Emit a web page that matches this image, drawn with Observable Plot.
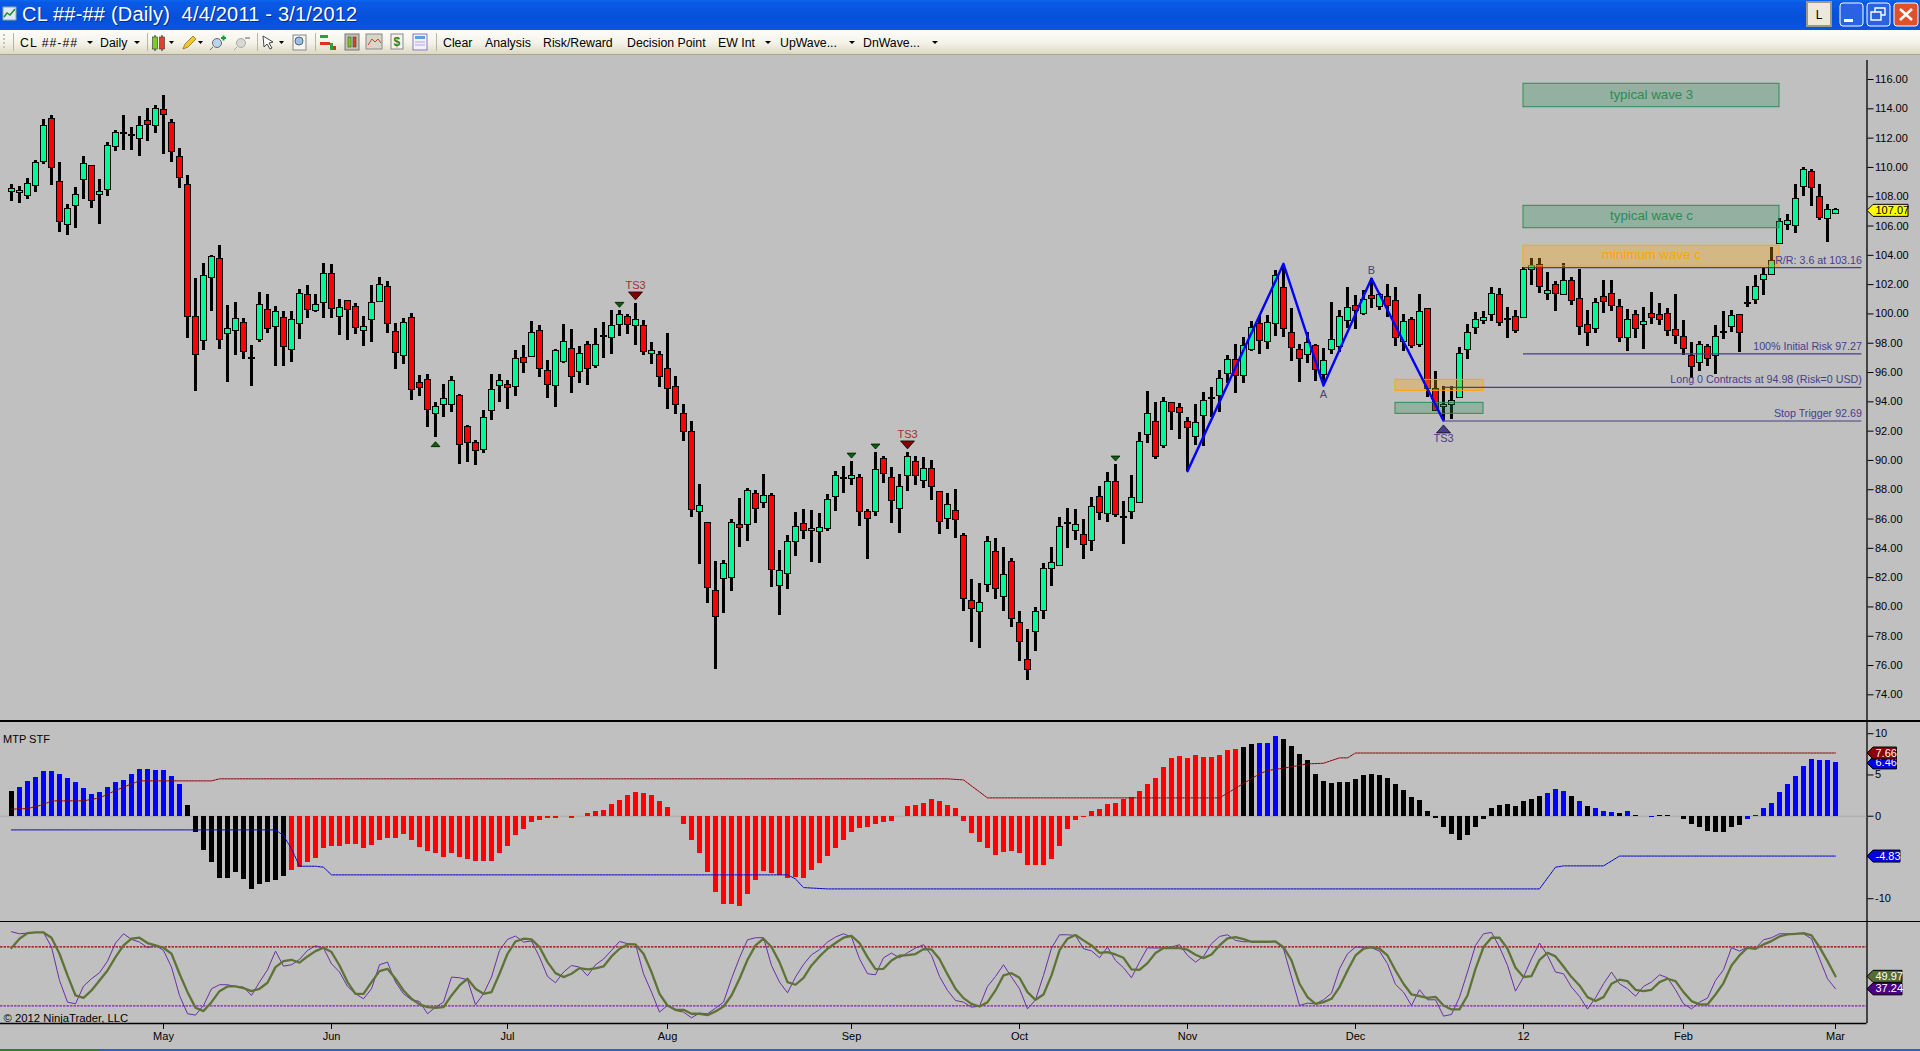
<!DOCTYPE html>
<html><head><meta charset="utf-8">
<script src="https://cdn.jsdelivr.net/npm/d3@7"></script>
<script src="https://cdn.jsdelivr.net/npm/@observablehq/plot@0.6"></script>
<style>
html,body{margin:0;padding:0;background:#c0c0c0;}
#page{position:relative;width:1920px;height:1051px;overflow:hidden;background:#c0c0c0;font-family:"Liberation Sans",Arial,sans-serif;}
#titlebar{position:absolute;left:0;top:0;width:1920px;height:30px;background:linear-gradient(#0a66ee 0,#0a5ae6 8%,#0650d8 60%,#0a56de 100%);}
#title{position:absolute;left:22px;top:3px;color:#fff;font-size:20px;letter-spacing:.2px;white-space:pre;text-shadow:1px 1px 0 #02289a;}
#toolbar{position:absolute;left:0;top:30px;width:1920px;height:25px;background:linear-gradient(#fdfdfa,#f4f2e8 55%,#dcd8c4);border-bottom:1px solid #a8a68e;box-sizing:border-box;}
.tb{position:absolute;top:35.5px;font-size:12.3px;color:#000;white-space:pre;line-height:14px;}
.arr{position:absolute;top:41px;width:0;height:0;border-left:3px solid transparent;border-right:3px solid transparent;border-top:3px solid #000;}
.sep{position:absolute;left:0;width:1920px;height:1.5px;background:#000;}
.chart{position:absolute;left:0;}
#mtp{position:absolute;left:3px;top:733px;font-size:11px;color:#000;}
#bottom1{position:absolute;left:0;top:1049px;width:100px;height:2px;background:#2e8030;}
#bottom2{position:absolute;left:100px;top:1049px;width:1820px;height:2px;background:#2a62c8;}
svg.overlay{position:absolute;left:0;top:0;}
</style></head><body>
<div id="page">
<div id="titlebar"><div id="title">CL ##-## (Daily)  4/4/2011 - 3/1/2012</div></div>
<div id="toolbar"></div>
<div class="tb" style="left:20px;letter-spacing:1px">CL ##-##</div><div class="arr" style="left:87px"></div>
<div class="tb" style="left:100px">Daily</div><div class="arr" style="left:134px"></div>
<div class="tb" style="left:443px">Clear</div>
<div class="tb" style="left:485px">Analysis</div>
<div class="tb" style="left:543px">Risk/Reward</div>
<div class="tb" style="left:627px">Decision Point</div>
<div class="tb" style="left:718px">EW Int</div><div class="arr" style="left:765px"></div>
<div class="tb" style="left:780px">UpWave...</div><div class="arr" style="left:849px"></div>
<div class="tb" style="left:863px">DnWave...</div><div class="arr" style="left:932px"></div>
<svg class="overlay" width="1920" height="60">
  <g fill="#c8c6b0"><rect x="3" y="34" width="2" height="2"/><rect x="3" y="38" width="2" height="2"/><rect x="3" y="42" width="2" height="2"/><rect x="3" y="46" width="2" height="2"/></g>
  <g stroke="#b8b6a2" stroke-width="1"><path d="M13.5 33V51M147.5 33V51M257.5 33V51M315.5 33V51M436.5 33V51"/></g>
  <rect x="3" y="7" width="13" height="13" fill="#dfe8f4" stroke="#8aa"/><path d="M4 17l3-4 3 2 5-6" stroke="#1a8a2a" fill="none" stroke-width="1.4"/>
  <g><path d="M155 35V51M162 35V51" stroke="#222"/><rect x="152.500" y="37" width="5" height="12" fill="#78d020" stroke="#333" stroke-width=".6"/><rect x="159.500" y="37" width="5" height="12" fill="#e04030" stroke="#333" stroke-width=".6"/></g>
  <path d="M169 41h5l-2.5 3z M198 41h5l-2.5 3z M279 41h5l-2.5 3z"/>
  <path d="M183 49l2-5 8-8 3 3-8 8z" fill="#f0c830" stroke="#806010" stroke-width=".7"/>
  <g fill="#bcd4ec" stroke="#667" stroke-width="1"><circle cx="217" cy="43" r="4.5"/><path d="M213 47l-3 3"/></g><path d="M221 38h5M223.500 35.500v5" stroke="#10a030" stroke-width="2"/>
  <g fill="#d8d8d4" stroke="#aaa" stroke-width="1"><circle cx="241" cy="43" r="4.500"/><path d="M237 47l-3 3"/></g><path d="M245 38h5" stroke="#aaa" stroke-width="2"/>
  <path d="M263 36l10 6-4 1 3 5-2 1-3-5-3 3z" fill="#fff" stroke="#333" stroke-width=".9"/>
  <rect x="293" y="35" width="13" height="15" fill="#f4f4ee" stroke="#888"/><circle cx="299" cy="41" r="4" fill="#9cc0e4" stroke="#567"/>
  <g><rect x="320" y="35" width="8" height="3" fill="#30a030"/><rect x="320" y="42" width="10" height="3" fill="#e03020"/><rect x="330" y="43" width="3" height="7" fill="#30a030"/><rect x="333" y="46" width="3" height="4" fill="#e03020"/></g>
  <rect x="345" y="34" width="14" height="16" fill="#c4c2b4" stroke="#777"/><rect x="348" y="37" width="3" height="10" fill="#78d020" stroke="#333" stroke-width=".5"/><rect x="353" y="37" width="3" height="10" fill="#e04030" stroke="#333" stroke-width=".5"/>
  <rect x="366" y="34" width="16" height="15" fill="#d8d6c8" stroke="#888"/><path d="M368 45l4-6 3 3 3-3 3 4" stroke="#d04030" fill="none"/>
  <rect x="391" y="34" width="12" height="15" fill="#f4f4ee" stroke="#888"/><text x="393.500" y="46" font-size="12" font-weight="bold" fill="#208030" font-family="Liberation Sans">$</text>
  <rect x="413" y="34" width="14" height="16" fill="#f0f0f8" stroke="#8878c0"/><rect x="415" y="36" width="10" height="3" fill="#60a0e0"/><path d="M415 42h10M415 45h10" stroke="#c0a0e0"/>
  <rect x="1807" y="2" width="24" height="24" fill="#ece9d8" stroke="#9a9888" stroke-width="2"/><text x="1819" y="19" font-size="12" text-anchor="middle" font-family="Liberation Sans">L</text>
  <rect x="1840" y="3" width="23" height="23" rx="3" fill="#2a62e4" stroke="#fff"/><rect x="1844" y="19" width="9" height="3" fill="#fff"/>
  <rect x="1867" y="3" width="23" height="23" rx="3" fill="#2a62e4" stroke="#fff"/><path d="M1875 12v-4h10v7h-4M1871 12h10v8h-10z" fill="none" stroke="#fff" stroke-width="1.4"/>
  <rect x="1894" y="3" width="24" height="23" rx="3" fill="#e0502a" stroke="#fff"/><path d="M1900 9l12 11M1912 9l-12 11" stroke="#fff" stroke-width="2.600"/>
  <path d="M1837 66v19l14-9.500z" fill="none" stroke="#000" stroke-width="1.300"/><rect x="1853.500" y="65.500" width="2.600" height="20" fill="none" stroke="#000"/>
</svg>
<div id="p1" class="chart" style="top:55px"></div>
<div id="p2" class="chart" style="top:721px"></div>
<div id="p3" class="chart" style="top:921px"></div>
<div class="sep" style="top:720px"></div>
<div class="sep" style="top:920.5px"></div>
<div id="mtp">MTP STF</div>
<div id="bottom1"></div><div id="bottom2"></div>
</div>
<script>
// ---------- candles ----------
const highs=[108.83,108.69,109.24,110.47,113.24,113.52,110.31,107.44,108.63,110.74,
110.13,109.17,111.67,112.49,113.52,112.72,113.45,114.02,114.20,114.90,
113.24,111.26,109.42,102.39,103.42,103.96,104.64,100.57,100.75,99.66,
97.84,101.44,101.30,100.48,100.14,100.14,101.64,101.91,101.30,103.42,
103.35,100.96,100.89,100.68,99.82,101.91,102.46,102.19,99.32,99.66,
100.00,95.80,95.86,93.95,95.18,95.73,94.50,92.36,91.36,93.41,
95.86,95.86,95.45,97.50,97.84,99.46,99.21,96.82,97.55,99.28,
98.94,97.77,98.09,99.00,99.41,100.23,100.21,99.96,100.69,99.53,
98.02,97.41,98.66,95.70,93.79,92.63,88.33,85.74,83.08,83.17,
86.00,87.40,88.06,87.92,89.01,87.72,83.85,84.85,86.42,86.63,
86.56,86.35,87.65,89.22,89.58,89.92,89.01,86.63,90.54,90.25,
89.49,89.01,90.54,90.25,90.20,89.97,87.88,87.72,88.01,84.99,
81.85,81.57,84.78,84.65,84.03,83.28,79.69,78.44,79.94,82.94,
84.03,86.08,86.70,86.63,86.00,87.44,88.20,89.15,89.70,87.17,
88.95,91.88,94.70,93.93,94.27,93.93,93.86,92.91,93.79,94.61,
94.95,96.11,97.14,97.89,98.37,99.46,99.80,99.87,102.96,103.30,
100.35,97.89,98.71,97.89,97.62,100.76,100.21,101.78,101.23,101.57,
102.39,101.37,101.98,101.78,99.94,99.73,101.30,100.35,96.05,95.05,
95.05,97.68,99.25,100.07,100.14,101.78,101.71,100.41,100.21,103.19,
103.76,103.76,102.80,102.19,103.42,102.46,103.01,100.23,101.03,102.28,
102.28,100.96,100.28,100.21,100.46,101.44,100.69,100.39,101.30,99.55,
98.03,98.12,97.89,99.19,100.14,100.21,99.94,101.85,102.60,103.08,
104.53,106.49,106.76,108.81,109.97,109.83,108.81,107.45,107.17];
const bodyTops=[108.53,108.40,108.88,110.31,112.83,113.31,108.99,107.17,108.12,110.24,
110.10,108.33,111.47,112.36,112.33,112.22,112.83,113.18,114.00,113.93,
113.04,110.72,108.81,99.80,102.60,103.89,103.76,98.98,99.66,99.39,
96.98,100.62,100.27,100.14,99.73,99.59,101.37,101.30,100.62,102.73,
102.73,100.41,100.89,100.48,99.12,100.75,101.98,101.85,98.77,99.39,
99.73,95.30,95.50,93.63,94.20,95.43,94.41,92.29,91.20,92.91,
94.82,95.43,95.16,96.93,97.00,98.71,98.84,96.11,97.48,98.09,
97.62,97.27,97.89,97.89,98.48,99.19,99.94,99.80,99.60,99.19,
97.48,97.21,96.25,95.02,93.18,91.95,86.90,85.74,81.10,82.94,
85.74,85.60,87.92,87.72,87.58,87.58,82.46,84.44,85.47,85.67,
85.33,85.40,87.31,88.95,88.81,88.95,88.81,86.49,89.36,90.11,
88.81,88.20,90.25,89.90,89.42,89.42,87.85,86.97,86.56,84.85,
80.39,80.26,84.44,83.76,82.19,83.08,78.91,76.39,79.66,82.60,
83.01,85.47,85.76,85.60,84.92,86.83,87.51,88.54,88.54,86.17,
87.44,91.27,93.18,92.63,94.00,93.93,93.59,92.63,92.56,94.07,
94.27,95.57,96.87,96.87,97.80,99.05,99.32,99.39,102.60,101.78,
98.71,97.55,98.03,97.82,96.77,98.23,99.80,100.41,100.55,100.96,
101.23,101.30,101.17,100.89,99.46,99.60,100.14,100.35,94.86,93.79,
94.04,97.27,98.71,99.60,99.73,101.37,101.30,99.66,99.80,103.01,
103.28,103.35,101.57,101.98,102.26,102.26,101.03,99.25,100.76,101.17,
101.37,100.48,99.60,99.94,99.46,100.00,99.94,100.00,98.91,98.43,
97.14,97.89,97.75,98.43,98.78,99.87,99.94,100.76,101.85,102.67,
103.62,106.28,106.35,107.85,109.83,109.70,107.99,107.10,107.10];
const bodyBottoms=[108.33,108.24,108.06,108.74,110.35,109.97,106.28,106.05,107.37,109.15,
107.71,108.12,108.47,111.40,112.33,112.22,111.95,112.90,112.83,113.59,
111.04,109.29,99.80,97.20,98.16,102.46,98.23,98.64,98.84,97.41,
96.98,98.23,98.98,99.12,97.75,97.54,99.32,100.27,100.18,100.75,
100.34,99.80,100.27,99.05,98.84,99.59,100.82,99.32,97.34,97.13,
94.81,94.93,93.45,93.16,93.79,93.77,91.06,91.20,90.65,90.70,
93.38,95.07,94.93,95.00,96.66,97.05,96.25,95.16,95.07,96.71,
95.70,96.05,96.25,96.46,98.48,98.37,99.25,99.25,99.19,97.39,
97.27,95.70,94.89,93.79,91.95,86.63,86.49,81.30,79.32,81.92,
81.98,85.40,85.60,86.70,87.10,82.53,81.44,82.26,84.44,85.19,
85.19,85.12,85.33,87.51,88.81,88.74,86.49,86.01,86.49,89.08,
87.24,86.70,88.95,88.95,88.60,88.20,85.81,86.01,85.94,80.55,
79.87,79.66,81.50,81.23,80.69,79.19,77.62,75.70,78.30,79.73,
82.60,82.80,85.76,85.19,84.24,84.51,86.42,86.35,86.28,86.08,
86.49,87.10,91.75,90.25,91.00,93.32,93.25,92.22,91.61,93.04,
94.27,94.41,95.91,95.77,95.77,97.52,98.16,98.09,99.32,98.98,
97.68,96.93,97.21,96.18,95.84,97.55,97.75,99.53,100.21,100.00,
101.03,100.48,100.55,98.37,98.09,97.82,97.89,94.91,93.38,93.66,
93.79,94.27,97.55,99.05,99.53,99.94,99.39,99.66,98.84,99.73,
103.01,101.85,101.37,101.37,101.30,100.89,99.12,98.71,98.98,100.82,
100.53,98.37,98.37,98.98,99.25,99.73,99.60,98.84,98.50,97.62,
96.39,96.66,96.93,97.14,98.78,99.12,98.71,100.76,100.96,102.33,
102.67,104.76,106.08,106.01,108.67,108.61,106.56,106.49,106.83];
const lows=[107.67,107.53,107.81,108.28,110.20,108.76,105.58,105.35,105.83,107.81,
107.21,106.12,108.03,111.08,111.15,111.15,110.74,111.77,112.31,110.88,
110.33,108.56,98.32,94.72,97.50,100.16,97.57,95.34,97.18,96.88,
95.06,98.05,98.68,96.43,96.43,96.70,98.25,99.71,100.12,99.71,
99.71,98.55,98.18,98.59,97.77,98.05,100.78,98.68,96.23,96.54,
94.09,94.36,92.25,91.56,92.93,93.27,89.72,89.86,89.65,90.47,
92.72,93.95,93.47,94.36,95.93,97.00,95.66,94.22,93.61,96.61,
94.57,95.25,95.11,96.27,96.96,97.23,98.46,98.59,97.84,97.16,
96.54,94.98,93.47,93.13,91.29,86.10,82.89,80.26,75.75,79.57,
81.07,84.08,84.49,85.70,86.70,81.35,79.43,81.21,83.46,84.62,
83.05,82.99,85.17,86.51,87.74,88.29,85.49,83.24,86.17,88.42,
85.70,85.01,87.88,88.29,88.08,87.26,84.94,85.28,84.67,79.71,
77.57,77.18,80.98,80.53,79.71,78.62,76.30,75.00,76.98,79.16,
81.42,82.80,83.99,84.53,83.26,83.78,85.90,85.76,86.10,84.26,
85.97,87.10,91.13,90.06,90.79,92.04,91.43,89.27,91.02,90.95,
92.95,93.25,95.23,94.57,95.25,97.46,97.23,97.55,98.46,98.41,
96.75,95.34,96.64,95.41,95.11,97.21,97.34,98.98,98.96,99.87,
100.35,100.23,99.78,97.80,97.43,97.62,97.73,94.32,93.38,92.72,
92.79,94.27,96.91,98.62,99.28,99.46,99.16,98.34,98.69,99.73,
101.94,101.37,100.92,100.19,101.30,100.57,98.55,97.77,98.69,100.05,
100.19,98.07,97.46,98.34,97.59,99.25,99.23,98.48,97.93,97.18,
95.61,96.09,96.41,95.89,98.23,98.73,97.37,100.41,100.64,101.26,
102.65,104.71,105.69,105.49,108.01,107.33,106.38,104.87,106.83];
// g = close above open, r = close below open, d = doji
const candleDirs="gggggrrggg"+"rgggddgrgr"+"rrrrggrggr"+"dgrgrggrgg"+"rgrrgggrrg"+"rrrgggrrrg"+"ggrgrgrrgg"+"rgrgdggrgr"+"grrrrrgrrg"+"grgrgrgggr"+"ggggdgrrgr"+"rggrgrrgrr"+"rggrgrrrgg"+"ggdgrgrgrr"+"gggrgrrrgg"+"dggrggrggr"+"rrgrggggrg"+"rgrrgrgrrg"+"ggggggrdrg"+"grgrgrrrgr"+"rrgrgrrrrr"+"rgrgdgrdgg"+"gggggrrgg";

// ---------- MTP STF histogram ----------
const histValues=[2.99,3.47,4.20,4.69,5.41,5.41,5.05,4.57,4.08,3.35,
2.63,2.87,3.47,4.08,4.32,5.05,5.66,5.66,5.54,5.54,
4.81,3.84,1.29,-1.98,-4.16,-5.62,-7.56,-7.56,-6.83,-7.68,
-8.89,-8.28,-8.04,-7.80,-7.31,-6.59,-6.22,-5.62,-5.13,-3.92,
-3.68,-3.68,-3.43,-3.43,-3.92,-3.56,-2.95,-2.71,-2.71,-2.22,
-2.95,-3.80,-4.28,-4.53,-5.01,-4.53,-5.01,-5.25,-5.49,-5.49,
-5.49,-4.53,-3.68,-2.34,-1.62,-0.77,-0.53,-0.28,-0.28,0.02,
-0.28,-0.05,0.28,0.57,0.69,1.41,1.90,2.51,2.87,2.75,
2.51,1.78,1.05,0,-1.01,-2.95,-4.53,-6.83,-9.25,-10.71,
-10.71,-10.95,-9.49,-7.80,-6.71,-6.95,-7.19,-7.56,-7.43,-7.56,
-6.59,-5.74,-4.89,-3.92,-2.95,-1.98,-1.49,-1.37,-1.01,-0.77,
-0.65,-0.04,1.17,1.29,1.54,2.02,1.78,1.29,0.93,-0.65,
-2.10,-3.19,-3.92,-4.77,-4.40,-4.28,-4.53,-5.98,-5.98,-5.98,
-5.25,-3.68,-1.62,-0.53,-0.16,0.57,0.81,1.41,1.54,2.02,
2.26,2.99,3.84,4.57,5.90,6.99,7.23,6.99,7.35,7.11,
7.11,7.35,7.96,8.08,8.32,8.69,8.81,8.81,9.66,9.29,
8.44,7.47,6.75,5.05,4.20,3.96,4.08,4.08,4.44,4.93,
5.05,4.93,4.57,3.84,3.11,2.26,1.90,0.57,-0.24,-1.37,
-2.22,-2.95,-2.34,-1.37,-0.40,0.93,1.29,1.41,1.17,1.78,
2.02,2.38,2.75,3.23,2.99,2.38,1.78,1.17,0.93,0.57,
0.44,0.28,0.57,0.12,-0.06,-0.16,0.08,0.04,-0.04,-0.40,
-1.01,-1.37,-1.86,-1.98,-1.98,-1.37,-1.13,-0.40,0.12,0.93,
1.54,2.87,3.84,4.81,6.02,6.87,6.75,6.75,6.46];
const histColorRuns=[["#000",1],["#0000ff",21],["#000",13],["#ff0000",119],["#000",2],["#0000ff",3],["#000",33],["#0000ff",3],["#000",1],["#0000ff",1],["#000",1],["#0000ff",3],["#000",1],["#0000ff",1],["#000",1],["#0000ff",2],["#000",11],["#0000ff",12]];
const upperBandBars=[0,2,4,5,9,11,13,15,16,25,26,117,119,122,151,156,157,159,162,164,166,167,168,228];
const upperBandVals=[0.85,0.93,1.41,1.86,1.86,2.22,3.11,3.92,4.28,4.28,4.53,4.53,4.40,2.22,2.22,5.13,5.54,5.82,6.34,6.42,7.07,7.07,7.66,7.66];
const lowerBandBars=[0,33,34,35,36,38,39,40,97,98,99,102,191,193,194,199,201,228];
const lowerBandVals=[-1.66,-1.66,-2.34,-3.96,-6.06,-6.06,-6.18,-7.11,-7.11,-7.6,-8.65,-8.81,-8.81,-6.18,-6.02,-6.02,-4.83,-4.83];

// ---------- stochastic ----------
const stochK=[95.3,93.2,93.9,94.6,94.6,79.7,45.8,23.7,22.0,40.0,
47.5,53.6,65.4,83.8,93.2,87.5,84.8,79.0,81.4,76.3,
59.3,30.5,11.9,10.5,20.3,37.3,41.4,41.4,39.7,39.0,
30.5,44.1,56.6,75.6,60.3,61.7,67.1,76.3,81.0,78.7,
62.7,54.3,39.7,32.2,27.1,37.3,61.7,64.4,44.1,32.2,
26.1,24.4,11.9,18.6,23.7,49.2,48.5,46.5,21.0,32.2,
49.2,76.3,87.5,90.9,84.8,85.8,69.5,49.8,43.4,54.3,
61.0,59.3,50.5,61.7,67.5,76.3,85.4,83.1,82.4,52.6,
33.9,13.6,20.3,15.2,13.6,7.8,12.6,11.9,17.6,23.7,
47.5,68.8,87.1,89.2,89.2,61.0,44.1,33.2,49.2,62.0,
71.9,77.0,84.8,89.9,93.2,89.9,67.8,52.6,51.5,68.8,
73.6,68.8,73.9,78.7,82.1,71.2,49.8,35.6,25.4,23.7,
18.6,19.6,39.7,49.8,61.7,49.2,37.3,16.9,26.1,50.9,
78.7,92.2,92.2,91.5,78.0,75.9,68.8,79.7,66.1,58.7,
48.5,64.4,79.0,78.7,79.0,79.7,82.1,71.2,64.4,70.2,
83.1,90.5,92.2,86.5,85.1,85.1,85.1,85.1,85.1,78.0,
49.2,20.3,22.7,22.0,26.1,32.9,57.6,72.9,79.7,79.7,
79.0,75.6,62.7,41.7,33.9,20.3,36.3,26.1,26.1,9.5,
11.2,28.8,54.3,81.4,93.2,94.6,79.7,61.0,34.9,49.2,
67.8,83.8,71.2,54.3,52.6,39.0,29.5,16.6,28.1,42.4,
54.3,42.4,37.3,29.8,39.7,44.1,51.5,48.5,36.3,22.0,
16.9,23.7,27.8,45.8,56.6,79.0,75.6,79.7,78.3,87.1,
89.2,93.2,93.2,93.2,93.2,88.2,67.8,47.5,37.24];
const stochD=[78.7,88.2,93.9,94.6,94.6,89.2,72.9,50.9,30.5,28.1,
35.6,45.8,55.9,69.5,81.4,88.2,89.2,83.8,81.4,79.0,
72.9,52.6,33.9,18.0,14.6,23.7,34.9,39.7,39.7,38.0,
34.9,37.3,43.4,59.3,65.4,66.8,63.8,70.2,75.6,79.0,
74.6,61.0,44.1,32.2,32.2,44.1,55.3,57.6,47.5,35.6,
27.1,21.4,18.6,18.0,18.6,30.5,40.7,47.5,37.3,32.2,
33.9,52.6,72.9,85.4,88.2,87.5,79.7,64.4,53.2,49.2,
52.6,58.3,57.0,58.0,60.0,70.2,78.0,82.4,82.4,72.9,
54.3,32.2,20.3,15.9,15.9,11.9,11.9,10.5,14.3,19.3,
30.5,47.5,66.8,81.4,88.2,79.7,64.4,44.1,41.4,48.5,
61.0,70.2,78.0,83.8,89.2,91.2,83.8,69.5,57.3,57.6,
66.1,70.9,71.5,72.6,77.6,77.3,67.5,51.9,37.3,27.8,
22.0,19.3,23.7,35.6,50.9,53.2,48.5,33.9,26.1,31.5,
50.9,76.3,88.2,91.9,86.5,81.4,73.9,74.6,72.2,68.8,
57.0,56.6,63.4,73.6,78.7,79.0,78.7,77.0,71.9,68.5,
72.2,81.4,88.5,89.9,87.8,85.1,85.1,85.1,85.4,79.7,
66.1,42.4,28.8,22.0,23.7,27.1,39.0,55.9,71.2,78.0,
79.7,78.0,71.2,55.9,42.4,31.5,29.8,28.1,29.1,20.3,
16.3,16.3,30.5,57.6,79.7,89.2,89.2,78.0,58.7,49.2,
50.2,66.8,73.9,70.2,60.0,49.2,40.7,28.8,24.8,28.8,
42.4,46.5,45.1,36.3,34.9,36.3,44.1,47.5,45.1,33.9,
24.8,21.4,21.4,31.5,43.1,61.0,71.2,79.0,78.0,82.4,
85.8,90.5,92.6,93.2,93.9,91.5,79.7,65.4,49.97];

// ---------- axes and annotations ----------
const priceTicks=[74,76,78,80,82,84,86,88,90,92,94,96,98,100,102,104,106,108,110,112,114,116];
const mtpTicks=[-10,0,5,10];
const monthBars=[19,40,62,82,105,126,147,168,189,209,228];
const monthLabels=["May","Jun","Jul","Aug","Sep","Oct","Nov","Dec","12","Feb","Mar"];
const zoneNames=["typical wave 3","typical wave c","minimum wave c","","",];
const zoneFrom=[189,189,189,173,173];
const zoneTo=[221,221,221,184,184];
const zoneHigh=[115.71,107.38,104.65,95.50,93.93];
const zoneLow=[114.11,105.85,103.24,94.75,93.18];
const zoneColors=["#2e8b57","#2e8b57","#ffa500","#ffa500","#2e8b57"];
const zigBars=[147,159,164,170,179];
const zigPrices=[89.27,103.42,95.11,102.42,92.72];
const riskText=["R/R: 3.6 at 103.16","100% Initial Risk 97.27","Long 0 Contracts at 94.98 (Risk=0 USD)","Stop Trigger 92.69"];
const riskPrice=[103.16,97.27,94.98,92.69];
const riskFrom=[189,189,179,179];
const smallUpBars=[53], smallUpPrices=[91.11];
const smallDownBars=[76,105,108,138], smallDownPrices=[100.62,90.33,90.95,90.13];
const ts3DownBars=[78,112], ts3DownPrices=[101.23,91.06];

// ---------- library tables ----------
const axisBar=(1866.5-11)/8, firstEdge=-11/8, lineEnd=231.3;
const xDomain=[firstEdge,axisBar];
const font='"Liberation Sans",Arial,sans-serif';
const bars=highs.map((h,i)=>({i,h,t:bodyTops[i],b:bodyBottoms[i],l:lows[i],d:candleDirs[i]}));
const histColors=histColorRuns.flatMap(([c,n])=>Array(n).fill(c));
const hist=histValues.map((v,i)=>({i,v,c:histColors[i]}));
const zones=zoneNames.map((n,k)=>({n,from:zoneFrom[k],to:zoneTo[k],hi:zoneHigh[k],lo:zoneLow[k],c:zoneColors[k]}));
const risk=riskText.map((t,k)=>({t,y:riskPrice[k],from:riskFrom[k]}));
const pts=(xs,ys)=>xs.map((x,k)=>({x,y:ys[k]}));
const tri=(w,h,up)=>({draw(c){const s=up?-1:1;c.moveTo(-w/2,-s*h/2);c.lineTo(w/2,-s*h/2);c.lineTo(0,s*h/2);c.closePath();}});
const flag=(w)=>({draw(c){c.moveTo(0,0);c.lineTo(6,-6);c.lineTo(w,-6);c.lineTo(w,6);c.lineTo(6,6);c.closePath();}});
const tagMarks=(tags)=>tags.flatMap(t=>[
  Plot.dot([t],{x:()=>axisBar,y:"v",r:4,symbol:flag(t.w),fill:t.bg,stroke:"#000",strokeWidth:1}),
  Plot.text([t],{x:()=>axisBar,y:"v",text:d=>d.s,textAnchor:"start",dx:8.5,fill:t.fg,fontSize:11})
]);
const base={width:1920,marginLeft:0,marginRight:53.5,marginTop:0,style:{background:"transparent",fontFamily:font,fontSize:"11px",color:"#000",overflow:"visible"}};

// ---------- price panel ----------
document.getElementById("p1").append(Plot.plot({...base,height:666,marginBottom:0,
  x:{domain:xDomain,axis:null},y:{domain:[72.18,117.64],axis:null},
  marks:[
    Plot.ruleX([axisBar],{y1:72.18,y2:117.3,stroke:"#000",strokeWidth:1.3}),
    Plot.axisY({anchor:"right",ticks:priceTicks,tickSize:6,tickPadding:2,tickFormat:d=>d.toFixed(2),label:null,fontSize:11}),
    Plot.ruleX(bars,{x:"i",y1:"l",y2:"h",stroke:"#000",strokeWidth:3,shapeRendering:"crispEdges"}),
    Plot.rect(bars.filter(d=>d.d!=="d"),{x1:d=>d.i-0.3125,x2:d=>d.i+0.4375,y1:"b",y2:"t",fill:d=>d.d==="g"?"#00fa9a":"#ff0000",stroke:"#000",strokeWidth:1,shapeRendering:"crispEdges"}),
    Plot.ruleY(bars.filter(d=>d.d==="d"),{y:"t",x1:d=>d.i-0.375,x2:d=>d.i+0.5,stroke:"#000",strokeWidth:2,shapeRendering:"crispEdges"}),
    Plot.rect(zones,{x1:"from",x2:"to",y1:"lo",y2:"hi",fill:"c",fillOpacity:0.3,stroke:"c",strokeWidth:1}),
    Plot.text(zones.filter(z=>z.n),{x:d=>(d.from+d.to)/2,y:d=>(d.hi+d.lo)/2,text:"n",dy:-1,fill:"c",fontSize:13.3}),
    Plot.line(pts(zigBars,zigPrices),{x:"x",y:"y",stroke:"#0000ff",strokeWidth:2.4}),
    Plot.ruleY(risk,{y:"y",x1:"from",x2:()=>lineEnd,stroke:"#483d8b",strokeWidth:1.2}),
    Plot.text(risk,{x:()=>lineEnd,y:"y",text:"t",textAnchor:"end",dy:-7.5,fill:"#483d8b",fontSize:10.7}),
    Plot.dot(pts(smallUpBars,smallUpPrices),{x:"x",y:"y",r:3,symbol:tri(9,5,true),fill:"#006400",stroke:"#000",strokeWidth:.7}),
    Plot.dot(pts(smallDownBars,smallDownPrices),{x:"x",y:"y",r:3,symbol:tri(9,5,false),fill:"#006400",stroke:"#000",strokeWidth:.7}),
    Plot.dot(pts(ts3DownBars,ts3DownPrices),{x:"x",y:"y",r:5,symbol:tri(14,8,false),fill:"#800000",stroke:"#000",strokeWidth:.7}),
    Plot.text(pts(ts3DownBars,ts3DownPrices),{x:"x",y:"y",text:()=>"TS3",dy:-10,fill:"#a03030",fontSize:11}),
    Plot.dot(pts([179],[92.15]),{x:"x",y:"y",r:5,symbol:tri(14,8,true),fill:"#483d8b",stroke:"#000",strokeWidth:.7}),
    Plot.text(pts([179],[91.47]),{x:"x",y:"y",text:()=>"TS3",fill:"#483d8b",fontSize:11}),
    Plot.text(pts([164],[94.48]),{x:"x",y:"y",text:()=>"A",fill:"#483d8b",fontSize:11}),
    Plot.text(pts([170],[102.96]),{x:"x",y:"y",text:()=>"B",fill:"#483d8b",fontSize:11}),
    ...tagMarks([{v:107.07,s:"107.07",w:41,bg:"#ffff00",fg:"#000"}])
  ]}));

// ---------- MTP STF panel ----------
document.getElementById("p2").append(Plot.plot({...base,height:200,marginBottom:0,
  x:{domain:xDomain,axis:null},y:{domain:[-12.76,11.48],axis:null},
  marks:[
    Plot.ruleX([axisBar],{stroke:"#000",strokeWidth:1.3}),
    Plot.axisY({anchor:"right",ticks:mtpTicks,tickSize:6,tickPadding:2,label:null,tickFormat:d=>String(d).replace("−","-"),fontSize:11}),
    Plot.ruleY([0],{x1:firstEdge,x2:axisBar,stroke:"#a8a8a8",strokeWidth:1}),
    Plot.rect(hist,{x1:d=>d.i-0.3125,x2:d=>d.i+0.3125,y1:()=>0,y2:"v",fill:"c",shapeRendering:"crispEdges"}),
    Plot.line(pts(upperBandBars,upperBandVals),{x:"x",y:"y",stroke:"#8b0000",strokeWidth:1,strokeDasharray:"2,1"}),
    Plot.line(pts(lowerBandBars,lowerBandVals),{x:"x",y:"y",stroke:"#0000cd",strokeWidth:1,strokeDasharray:"2,1"}),
    ...tagMarks([
      {v:6.46,s:"6.46",w:29.5,bg:"#0000e0",fg:"#fff"},
      {v:7.66,s:"7.66",w:29.5,bg:"#8b0000",fg:"#fff"},
      {v:-4.83,s:"-4.83",w:33,bg:"#0000e0",fg:"#fff"}])
  ]}));

// ---------- stochastic panel ----------
document.getElementById("p3").append(Plot.plot({...base,height:130,marginBottom:28,
  x:{domain:xDomain,axis:null},y:{domain:[2,105.7],axis:null},
  marks:[
    Plot.ruleX([axisBar],{stroke:"#000",strokeWidth:1.3}),
    Plot.ruleY([2],{x1:firstEdge,x2:axisBar,stroke:"#000",strokeWidth:1.3}),
    Plot.axisX({anchor:"bottom",ticks:monthBars,tickSize:6,tickPadding:3,label:null,tickFormat:d=>monthLabels[monthBars.indexOf(d)],fontSize:11}),
    Plot.ruleY([80],{x1:firstEdge,x2:axisBar,stroke:"#a00000",strokeWidth:1.2,strokeDasharray:"2.500,1"}),
    Plot.ruleY([20],{x1:firstEdge,x2:axisBar,stroke:"#8020c0",strokeWidth:1.2,strokeDasharray:"2.500,1"}),
    Plot.line(stochK.map((y,x)=>({x,y})),{x:"x",y:"y",stroke:"#6a2fa8",strokeWidth:1}),
    Plot.line(stochD.map((y,x)=>({x,y})),{x:"x",y:"y",stroke:"#5f7338",strokeWidth:2.3}),
    Plot.text(pts([firstEdge],[7.5]),{x:"x",y:"y",text:()=>"© 2012 NinjaTrader, LLC",textAnchor:"start",dx:3,fill:"#000",fontSize:11.3}),
    ...tagMarks([
      {v:37.24,s:"37.24",w:35,bg:"#4b0082",fg:"#fff"},
      {v:49.97,s:"49.97",w:35,bg:"#556b2f",fg:"#fff"}])
  ]}));
</script>
</body></html>
